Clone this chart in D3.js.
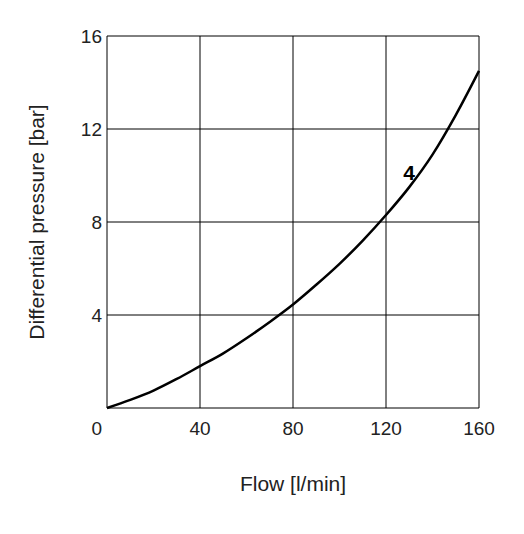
<!DOCTYPE html>
<html><head><meta charset="utf-8">
<script src="https://cdn.jsdelivr.net/npm/d3@7"></script>
<style>body{margin:0;background:#fff}</style></head>
<body><svg id="c" width="524" height="534"></svg>
<script>
var flow = [0, 10, 20, 30, 40, 50, 60, 70, 80, 90, 100, 110, 120, 130, 140, 150, 160];
var pressure = [0, 0.35, 0.75, 1.25, 1.8, 2.35, 3.0, 3.7, 4.45, 5.3, 6.2, 7.2, 8.3, 9.5, 10.9, 12.6, 14.5];
var xTicks = [0, 40, 80, 120, 160];
var yTicks = [4, 8, 12, 16];

var svg = d3.select("#c");
var x = d3.scaleLinear().domain([0, 160]).range([107, 479]);
var y = d3.scaleLinear().domain([0, 16]).range([408, 36]);
var font = "'Liberation Sans', sans-serif";

// grid
svg.selectAll(".gx").data(xTicks).enter().append("line")
    .attr("x1", function(d) { return x(d); }).attr("x2", function(d) { return x(d); })
    .attr("y1", y(0)).attr("y2", y(16)).attr("stroke", "#000").attr("stroke-width", 1);
svg.selectAll(".gy").data([0].concat(yTicks)).enter().append("line")
    .attr("x1", x(0)).attr("x2", x(160))
    .attr("y1", function(d) { return y(d); }).attr("y2", function(d) { return y(d); })
    .attr("stroke", "#000").attr("stroke-width", 1);

svg.selectAll(".tx").data(xTicks).enter().append("text")
    .attr("x", function(d) { return x(d); }).attr("y", 435)
    .attr("text-anchor", function(d) { return d === 0 ? "end" : "middle"; })
    .attr("dx", function(d) { return d === 0 ? -5 : 0; })
    .attr("font-family", font).attr("font-size", 19).attr("fill", "#222").text(function(d) { return d; });
svg.selectAll(".ty").data(yTicks).enter().append("text")
    .attr("x", 102).attr("y", function(d) { return y(d) + 7; })
    .attr("text-anchor", "end")
    .attr("font-family", font).attr("font-size", 19).attr("fill", "#222").text(function(d) { return d; });

svg.append("path").datum(d3.range(flow.length))
    .attr("fill", "none").attr("stroke", "#000").attr("stroke-width", 2.5)
    .attr("d", d3.line().curve(d3.curveMonotoneX)
        .x(function(i) { return x(flow[i]); }).y(function(i) { return y(pressure[i]); }));

svg.append("text").attr("x", 409).attr("y", 180).attr("text-anchor", "middle")
    .attr("font-family", font).attr("font-weight", "bold").attr("font-size", 21).text("4");

svg.append("text").attr("x", x(80)).attr("y", 491).attr("text-anchor", "middle")
    .attr("font-family", font).attr("font-size", 21).attr("fill", "#222").text("Flow [l/min]");
svg.append("text").attr("transform", "translate(44," + y(8) + ") rotate(-90)")
    .attr("text-anchor", "middle")
    .attr("font-family", font).attr("font-size", 21).attr("fill", "#222").text("Differential pressure [bar]");
</script></body></html>
